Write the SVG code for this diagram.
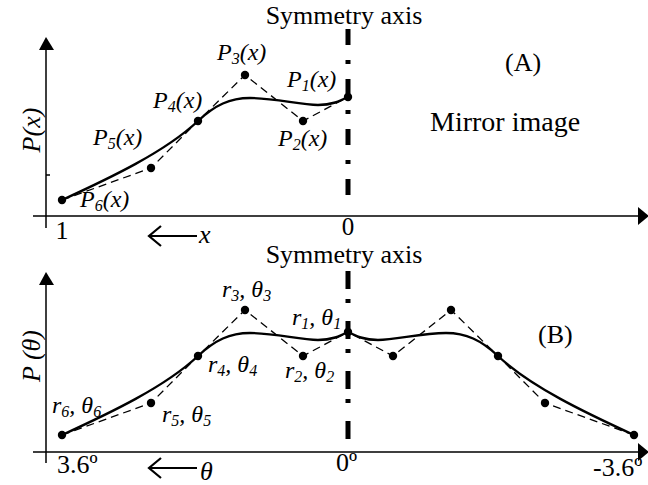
<svg xmlns="http://www.w3.org/2000/svg" width="648" height="485" viewBox="0 0 648 485">
<style>
text{font-family:"Liberation Serif","Times New Roman",serif;fill:#000}
.it{font-style:italic}
.ax{stroke:#000;stroke-width:1.5;fill:none}
.ah{fill:#000}
.sym{stroke:#000;stroke-width:5;fill:none}
.cp{stroke:#000;stroke-width:1.3;fill:none;stroke-dasharray:8 5}
.cv{stroke:#000;stroke-width:2.4;fill:none;stroke-linejoin:round}
.dot{fill:#000}
.arr{stroke:#000;stroke-width:2.2;fill:none}
.lbl{font-size:24px;font-style:italic}
.sub{font-size:16px}
.big{font-size:26px}
</style>
<defs>
<path id="curve" d="M62,200 C110,178 165,152 198,121 C215,105 230,98 250,98 C275,98 300,105 318,105 C332,105 340,101 348,97"/>
<circle id="pt" r="4.2" class="dot"/>
</defs>

<g id="panelA">
  <g id="axesA">
    <path class="ax" d="M46,48 V228 M33,216 H640 M46,175 H50"/>
    <path class="ah" d="M46,37 L39,50 L54,50 Z"/>
    <path class="ah" d="M649,216 L638,207 L638,225 Z"/>
    <text class="big it" transform="translate(40,130) rotate(-90)" text-anchor="middle">P(x)</text>
    <text class="big" x="62" y="239" text-anchor="middle">1</text>
    <text x="348" y="235" text-anchor="middle" style="font-size:25px">0</text>
    <path class="arr" d="M149,236 H197 M161,226 L149,236 L161,246"/>
    <text class="big it" x="199" y="243">x</text>
  </g>
  <g id="symA">
    <line class="sym" x1="348" y1="29" x2="348" y2="198" stroke-dasharray="16 15 4 15"/>
    <text class="big" x="344" y="24" text-anchor="middle">Symmetry axis</text>
  </g>
  <g id="connectorsA">
    <polyline class="cp" points="62,200 151,168 198,121 245,75 303,121 348,97"/>
    <use href="#curve" class="cv"/>
  </g>
  <g id="pointsA">
    <g id="P6"><use href="#pt" x="62" y="200"/><text class="lbl" x="80" y="207">P<tspan class="sub" dy="4">6</tspan><tspan dy="-4">(x)</tspan></text></g>
    <g id="P5"><use href="#pt" x="151" y="168"/><text class="lbl" x="93" y="145">P<tspan class="sub" dy="4">5</tspan><tspan dy="-4">(x)</tspan></text></g>
    <g id="P4"><use href="#pt" x="198" y="121"/><text class="lbl" x="153" y="108">P<tspan class="sub" dy="4">4</tspan><tspan dy="-4">(x)</tspan></text></g>
    <g id="P3"><use href="#pt" x="245" y="75"/><text class="lbl" x="217" y="60">P<tspan class="sub" dy="4">3</tspan><tspan dy="-4">(x)</tspan></text></g>
    <g id="P2"><use href="#pt" x="303" y="121"/><text class="lbl" x="278" y="146">P<tspan class="sub" dy="4">2</tspan><tspan dy="-4">(x)</tspan></text></g>
    <g id="P1"><use href="#pt" x="348" y="97"/><text class="lbl" x="287" y="87">P<tspan class="sub" dy="4">1</tspan><tspan dy="-4">(x)</tspan></text></g>
  </g>
  <text id="labelA" class="big" x="505" y="71">(A)</text>
  <text id="mirror" x="430" y="131" style="font-size:28px">Mirror image</text>
</g>

<g id="panelB">
  <g id="axesB">
    <path class="ax" d="M46,283 V463 M33,452 H640"/>
    <path class="ah" d="M46,272 L39,285 L54,285 Z"/>
    <path class="ah" d="M649,452 L638,443 L638,461 Z"/>
    <text class="big it" transform="translate(40,356) rotate(-90)" text-anchor="middle">P (θ)</text>
    <text class="big" x="57" y="473">3.6º</text>
    <text class="big" x="336" y="471">0º</text>
    <text class="big" x="593" y="476">-3.6º</text>
    <path class="arr" d="M149,468 H197 M161,458 L149,468 L161,478"/>
    <text class="big it" x="200" y="480">θ</text>
  </g>
  <g id="symB">
    <line class="sym" x1="348" y1="271" x2="348" y2="440" stroke-dasharray="18 10 4 18"/>
    <text class="big" x="344" y="263" text-anchor="middle">Symmetry axis</text>
  </g>
  <g id="connectorsB">
    <g transform="translate(0,235)">
      <polyline class="cp" points="62,200 151,168 198,121 245,75 303,121 348,97"/>
      <use href="#curve" class="cv"/>
    </g>
    <g transform="translate(696,235) scale(-1,1)">
      <polyline class="cp" points="62,200 151,168 198,121 245,75 303,121 348,97"/>
      <use href="#curve" class="cv"/>
    </g>
  </g>
  <g id="pointsB">
    <g id="r6"><use href="#pt" x="62" y="435"/><text class="lbl" x="52" y="413">r<tspan class="sub" dy="4">6</tspan><tspan dy="-4">, θ</tspan><tspan class="sub" dy="4">6</tspan></text></g>
    <g id="r5"><use href="#pt" x="151" y="403"/><text class="lbl" x="162" y="422">r<tspan class="sub" dy="4">5</tspan><tspan dy="-4">, θ</tspan><tspan class="sub" dy="4">5</tspan></text></g>
    <g id="r4"><use href="#pt" x="198" y="356"/><text class="lbl" x="208" y="372">r<tspan class="sub" dy="4">4</tspan><tspan dy="-4">, θ</tspan><tspan class="sub" dy="4">4</tspan></text></g>
    <g id="r3"><use href="#pt" x="245" y="310"/><text class="lbl" x="222" y="297">r<tspan class="sub" dy="4">3</tspan><tspan dy="-4">, θ</tspan><tspan class="sub" dy="4">3</tspan></text></g>
    <g id="r2"><use href="#pt" x="303" y="356"/><text class="lbl" x="285" y="378">r<tspan class="sub" dy="4">2</tspan><tspan dy="-4">, θ</tspan><tspan class="sub" dy="4">2</tspan></text></g>
    <g id="r1"><use href="#pt" x="348" y="332"/><text class="lbl" x="292" y="325">r<tspan class="sub" dy="4">1</tspan><tspan dy="-4">, θ</tspan><tspan class="sub" dy="4">1</tspan></text></g>
    <g id="m2"><use href="#pt" x="393" y="356"/></g>
    <g id="m3"><use href="#pt" x="451" y="310"/></g>
    <g id="m4"><use href="#pt" x="498" y="356"/></g>
    <g id="m5"><use href="#pt" x="545" y="403"/></g>
    <g id="m6"><use href="#pt" x="634" y="435"/></g>
  </g>
  <text id="labelB" class="big" x="538" y="343">(B)</text>
</g>
</svg>
